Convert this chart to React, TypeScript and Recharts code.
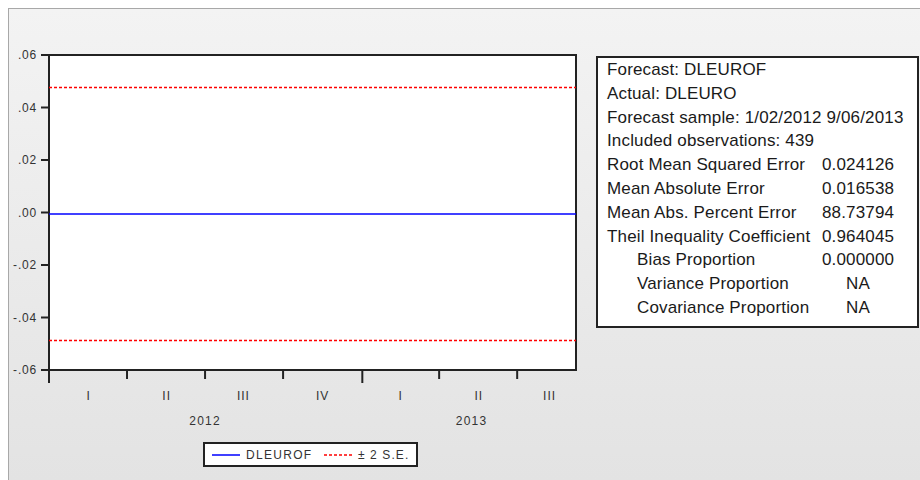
import {
  ComposedChart,
  Line,
  XAxis,
  YAxis,
  ReferenceArea,
} from "recharts";

const FORECAST_COLOR = "#0000ff";
const SE_COLOR = "#ff0000";
const AXIS_COLOR = "#222";
const TEXT_COLOR = "#333";
const FONT = "'Liberation Sans', Arial, sans-serif";

// observation index (trading days from 1/02/2012) at quarter boundaries + last obs
const obs = [0, 65, 130, 195, 261, 325, 390, 439];
const dleurof = [-0.0006, -0.0006, -0.0006, -0.0006, -0.0006, -0.0006, -0.0006, -0.0006];
const upperSE = [0.0476, 0.0476, 0.0476, 0.0476, 0.0476, 0.0476, 0.0476, 0.0476];
const lowerSE = [-0.0488, -0.0488, -0.0488, -0.0488, -0.0488, -0.0488, -0.0488, -0.0488];

const quarterStarts = [0, 65, 130, 195, 261, 325, 390];
const yearStarts = [0, 261];
const quarterMids = [33, 98, 162, 228, 293, 358, 417];
const quarterLabels = ["I", "II", "III", "IV", "I", "II", "III"];
const yearMids = [130, 352];
const yearLabels = ["2012", "2013"];
const yTicks = [-0.06, -0.04, -0.02, 0, 0.02, 0.04, 0.06];

const statLabels = [
  "Forecast: DLEUROF",
  "Actual: DLEURO",
  "Forecast sample: 1/02/2012 9/06/2013",
  "Included observations: 439",
  "Root Mean Squared Error",
  "Mean Absolute Error",
  "Mean Abs. Percent Error",
  "Theil Inequality Coefficient",
  "Bias Proportion",
  "Variance Proportion",
  "Covariance Proportion",
];
const statValues = ["", "", "", "", "0.024126", "0.016538", "88.73794", "0.964045", "0.000000", "NA", "NA"];
const statIndent = [false, false, false, false, false, false, false, false, true, true, true];

const data = obs.map((o, i) => ({
  obs: o,
  dleurof: dleurof[i],
  upper: upperSE[i],
  lower: lowerSE[i],
}));

const fmtY = (v: number) =>
  (v < 0 ? "-" : "") + Math.abs(v).toFixed(2).replace(/^0/, "");

function YTick({ x, y, payload }: any) {
  return (
    <g>
      <line x1={x - 8} x2={x} y1={y} y2={y} stroke={AXIS_COLOR} strokeWidth={2} />
      <text
        x={x - 12}
        y={y}
        textAnchor="end"
        dominantBaseline="central"
        fill={TEXT_COLOR}
        fontSize={12}
        fontFamily={FONT}
        style={{ letterSpacing: 0.8 }}
      >
        {fmtY(payload.value)}
      </text>
    </g>
  );
}

function BoundaryTick({ x, y, payload }: any) {
  const long = yearStarts.includes(payload.value);
  return <line x1={x} x2={x} y1={y} y2={y + (long ? 13 : 9)} stroke={AXIS_COLOR} strokeWidth={2} />;
}

function QuarterTick({ x, y, index }: any) {
  return (
    <text
      x={x}
      y={y + 16}
      textAnchor="middle"
      fill={TEXT_COLOR}
      fontSize={12}
      fontFamily={FONT}
      style={{ letterSpacing: 1 }}
    >
      {quarterLabels[index] ?? ""}
    </text>
  );
}

function YearTick({ x, y, index }: any) {
  return (
    <text
      x={x}
      y={y + 21}
      textAnchor="middle"
      fill={TEXT_COLOR}
      fontSize={12}
      fontFamily={FONT}
      style={{ letterSpacing: 1.2 }}
    >
      {yearLabels[index] ?? ""}
    </text>
  );
}

export default function App() {
  return (
    <div style={{ position: "absolute", left: 0, top: 0, width: 920, height: 480, background: "#fff", overflow: "hidden" }}>
      <div
        style={{
          position: "absolute",
          left: 8,
          top: 8,
          width: 912,
          height: 472,
          boxSizing: "border-box",
          borderTop: "1px solid #a8a8a8",
          borderLeft: "1px solid #a8a8a8",
          background: "linear-gradient(#f3f3f3, #e3e3e3)",
        }}
      />
      <div style={{ position: "absolute", left: 0, top: 0 }}>
        <ComposedChart
          width={600}
          height={480}
          data={data}
          margin={{ top: 55, right: 24, left: 9, bottom: 46 }}
        >
          <XAxis
            xAxisId="main"
            dataKey="obs"
            type="number"
            domain={[0, 439]}
            allowDataOverflow
            ticks={quarterStarts}
            height={14}
            tickSize={0}
            tickMargin={0}
            tickLine={false}
            axisLine={false}
            tick={<BoundaryTick />}
            interval={0}
          />
          <XAxis
            xAxisId="quarter"
            dataKey="obs"
            type="number"
            domain={[0, 439]}
            allowDataOverflow
            ticks={quarterMids}
            height={20}
            tickSize={0}
            tickMargin={0}
            tickLine={false}
            axisLine={false}
            tick={<QuarterTick />}
            interval={0}
          />
          <XAxis
            xAxisId="year"
            dataKey="obs"
            type="number"
            domain={[0, 439]}
            allowDataOverflow
            ticks={yearMids}
            height={30}
            tickSize={0}
            tickMargin={0}
            tickLine={false}
            axisLine={false}
            tick={<YearTick />}
            interval={0}
          />
          <YAxis
            type="number"
            domain={[-0.06, 0.06]}
            ticks={yTicks}
            width={40}
            tickSize={0}
            tickMargin={0}
            tickLine={false}
            axisLine={false}
            tick={<YTick />}
            interval={0}
          />
          <ReferenceArea
            xAxisId="main"
            x1={0}
            x2={439}
            y1={-0.06}
            y2={0.06}
            fill="#fff"
            fillOpacity={1}
            stroke={AXIS_COLOR}
            strokeWidth={2}
            ifOverflow="visible"
          />
          <Line
            xAxisId="main"
            dataKey="upper"
            stroke={SE_COLOR}
            strokeWidth={1.5}
            strokeDasharray="3 2"
            dot={false}
            isAnimationActive={false}
          />
          <Line
            xAxisId="main"
            dataKey="lower"
            stroke={SE_COLOR}
            strokeWidth={1.5}
            strokeDasharray="3 2"
            dot={false}
            isAnimationActive={false}
          />
          <Line
            xAxisId="main"
            dataKey="dleurof"
            stroke={FORECAST_COLOR}
            strokeWidth={1.5}
            dot={false}
            isAnimationActive={false}
          />
          {/* quarter/year axes need something attached */}
          <Line xAxisId="quarter" dataKey="dleurof" stroke="none" dot={false} isAnimationActive={false} />
          <Line xAxisId="year" dataKey="dleurof" stroke="none" dot={false} isAnimationActive={false} />
        </ComposedChart>
      </div>

      {/* legend */}
      <div
        style={{
          position: "absolute",
          left: 203,
          top: 442,
          width: 215,
          height: 25,
          boxSizing: "border-box",
          border: `2px solid ${AXIS_COLOR}`,
          background: "#fff",
        }}
      >
        <svg width={211} height={21} style={{ position: "absolute", left: 0, top: 0 }}>
          <line x1={7} x2={35} y1={11} y2={11} stroke={FORECAST_COLOR} strokeWidth={1.5} />
          <text x={41} y={15} fontSize={12} fontFamily={FONT} fill={TEXT_COLOR} style={{ letterSpacing: 1.3 }}>
            DLEUROF
          </text>
          <line x1={119} x2={148} y1={11} y2={11} stroke={SE_COLOR} strokeWidth={1.5} strokeDasharray="3 2" />
          <text x={153} y={15} fontSize={12} fontFamily={FONT} fill={TEXT_COLOR} style={{ letterSpacing: 1.1 }}>
            ± 2 S.E.
          </text>
        </svg>
      </div>

      {/* forecast evaluation box */}
      <div
        style={{
          position: "absolute",
          left: 596,
          top: 56,
          width: 323,
          height: 272,
          boxSizing: "border-box",
          border: `2px solid ${AXIS_COLOR}`,
          background: "#fff",
          fontFamily: FONT,
          fontSize: 17,
          color: "#1a1a1a",
          letterSpacing: 0.15,
        }}
      >
        {statLabels.map((label, i) => (
          <div
            key={i}
            style={{
              position: "absolute",
              left: 0,
              top: i * 23.8,
              height: 23.8,
              lineHeight: "23.8px",
              width: "100%",
              whiteSpace: "nowrap",
            }}
          >
            <span style={{ position: "absolute", left: statIndent[i] ? 39 : 9 }}>{label}</span>
            {statValues[i] && (
              <span style={{ position: "absolute", left: statValues[i] === "NA" ? 248 : 224 }}>
                {statValues[i]}
              </span>
            )}
          </div>
        ))}
      </div>
    </div>
  );
}
